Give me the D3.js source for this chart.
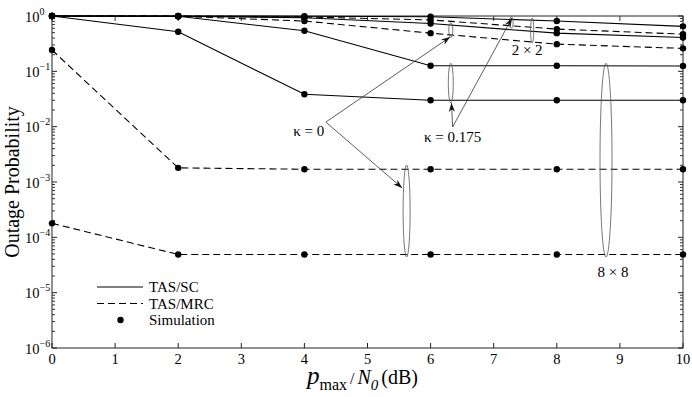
<!DOCTYPE html>
<html>
<head>
<meta charset="utf-8">
<script src="https://cdn.jsdelivr.net/npm/d3@7/dist/d3.min.js"></script>
<style>
  body { margin: 0; background: #fff; }
  svg { display: block; }
  svg text { font-family: 'Liberation Serif', 'Times New Roman', Times, serif; }
</style>
</head>
<body>
<div id="chart"></div>
<script>
// x values (dB)
const snrDb = [0, 2, 4, 6, 8, 10];
const xTicks = [0, 1, 2, 3, 4, 5, 6, 7, 8, 9, 10];
const yExponents = [0, -1, -2, -3, -4, -5, -6];

// 2 x 2 curves
const sc2x2K0175 = [1, 1, 0.99, 0.97, 0.81, 0.65];
const mrc2x2K0175 = [1, 1, 0.96, 0.85, 0.58, 0.47];
const sc2x2K0 = [1, 0.99, 0.93, 0.73, 0.49, 0.41];
const mrc2x2K0 = [1, 0.99, 0.81, 0.49, 0.31, 0.26];
// 8 x 8 curves
const sc8x8Upper = [1, 0.99, 0.54, 0.126, 0.126, 0.125];
const sc8x8Lower = [1, 0.52, 0.0385, 0.030, 0.030, 0.030];
const mrc8x8Upper = [0.243, 1.8e-3, 1.7e-3, 1.7e-3, 1.7e-3, 1.7e-3];
const mrc8x8Lower = [1.79e-4, 4.9e-5, 4.9e-5, 4.9e-5, 4.9e-5, 4.9e-5];

const series = [
  { values: sc2x2K0175, dashed: false },
  { values: mrc2x2K0175, dashed: true },
  { values: sc2x2K0, dashed: false },
  { values: mrc2x2K0, dashed: true },
  { values: sc8x8Upper, dashed: false },
  { values: sc8x8Lower, dashed: false },
  { values: mrc8x8Upper, dashed: true },
  { values: mrc8x8Lower, dashed: true }
];

const width = 692, height = 397;
const margin = { top: 16, right: 9, bottom: 49, left: 52 };
const serif = "'Liberation Serif', 'Times New Roman', Times, serif";

const svg = d3.select('#chart').append('svg')
  .attr('width', width)
  .attr('height', height)
  .attr('font-family', serif);

const x = d3.scaleLinear().domain([0, 10]).range([margin.left, width - margin.right]);
const y = d3.scaleLog().domain([1e-6, 1]).range([height - margin.bottom, margin.top]);

svg.append('defs').append('marker')
  .attr('id', 'arrow')
  .attr('viewBox', '0 0 10 10')
  .attr('refX', 10).attr('refY', 5)
  .attr('markerWidth', 9).attr('markerHeight', 9)
  .attr('markerUnits', 'userSpaceOnUse')
  .attr('orient', 'auto')
  .append('path')
  .attr('d', 'M0,1.5 L10,5 L0,8.5 L3,5 Z')
  .attr('fill', '#111');

// frame
svg.append('rect')
  .attr('x', x(0)).attr('y', y(1))
  .attr('width', x(10) - x(0)).attr('height', y(1e-6) - y(1))
  .attr('fill', 'none').attr('stroke', '#222').attr('stroke-width', 1);

// x ticks (bottom + top, inward)
xTicks.forEach(t => {
  svg.append('line').attr('x1', x(t)).attr('x2', x(t))
    .attr('y1', y(1e-6)).attr('y2', y(1e-6) - 5).attr('stroke', '#222');
  svg.append('line').attr('x1', x(t)).attr('x2', x(t))
    .attr('y1', y(1)).attr('y2', y(1) + 5).attr('stroke', '#333');
  svg.append('text').attr('x', x(t)).attr('y', y(1e-6) + 16)
    .attr('text-anchor', 'middle').attr('font-size', 14.5).text(t);
});

// y ticks, major + minor (left + right, inward)
yExponents.forEach(e => {
  const v = Math.pow(10, e);
  svg.append('line').attr('x1', x(0)).attr('x2', x(0) + 5)
    .attr('y1', y(v)).attr('y2', y(v)).attr('stroke', '#222');
  svg.append('line').attr('x1', x(10)).attr('x2', x(10) - 5)
    .attr('y1', y(v)).attr('y2', y(v)).attr('stroke', '#222');
  const lbl = svg.append('text').attr('y', y(v) + 5.5).attr('font-size', 14.5);
  lbl.append('tspan').attr('x', 25).text('10');
  lbl.append('tspan').attr('dy', -7).attr('font-size', 10)
    .text(e === 0 ? '0' : '\u2212' + (-e));
  if (e > -6) {
    for (let m = 2; m <= 9; m++) {
      const mv = v / 10 * m;
      svg.append('line').attr('x1', x(0)).attr('x2', x(0) + 3)
        .attr('y1', y(mv)).attr('y2', y(mv)).attr('stroke', '#333');
      svg.append('line').attr('x1', x(10)).attr('x2', x(10) - 3)
        .attr('y1', y(mv)).attr('y2', y(mv)).attr('stroke', '#333');
    }
  }
});

// curves
const line = d3.line().x((d, i) => x(snrDb[i])).y(d => y(d));
series.forEach(s => {
  svg.append('path')
    .attr('d', line(s.values))
    .attr('fill', 'none')
    .attr('stroke', '#000')
    .attr('stroke-width', 1.1)
    .attr('stroke-dasharray', s.dashed ? '7,4' : null);
});
series.forEach(s => {
  svg.selectAll(null).data(s.values).enter().append('circle')
    .attr('cx', (d, i) => x(snrDb[i]))
    .attr('cy', d => y(d))
    .attr('r', 3.2)
    .attr('fill', '#000');
});

// annotations: ellipses (x in dB, top/bottom in probability, rx in px)
const ellipses = [
  { x: 6.32, top: 0.76, bottom: 0.41, rx: 2 },
  { x: 7.28, top: 0.97, bottom: 0.60, rx: 1.8 },
  { x: 7.61, top: 0.92, bottom: 0.325, rx: 1.6 },
  { x: 6.32, top: 0.14, bottom: 0.0268, rx: 2.5 },
  { x: 5.62, top: 2.03e-3, bottom: 4.4e-5, rx: 3.5 },
  { x: 8.78, top: 0.14, bottom: 4.4e-5, rx: 6 }
];
ellipses.forEach(e => {
  svg.append('ellipse')
    .attr('cx', x(e.x))
    .attr('cy', (y(e.top) + y(e.bottom)) / 2)
    .attr('rx', e.rx)
    .attr('ry', (y(e.bottom) - y(e.top)) / 2)
    .attr('fill', 'none').attr('stroke', '#555').attr('stroke-width', 0.8);
});

const arrows = [
  { from: [4.34, 0.0121], to: [6.31, 0.417] },
  { from: [4.34, 0.0121], to: [5.55, 7.8e-4] },
  { from: [6.35, 9.9e-3], to: [6.33, 0.0268] },
  { from: [6.35, 9.9e-3], to: [7.29, 0.92] }
];
arrows.forEach(a => {
  svg.append('line')
    .attr('x1', x(a.from[0])).attr('y1', y(a.from[1]))
    .attr('x2', x(a.to[0])).attr('y2', y(a.to[1]))
    .attr('stroke', '#333').attr('stroke-width', 0.8)
    .attr('marker-end', 'url(#arrow)');
});

const notes = [
  { text: '\u03ba = 0', x: 4.07, y: 6.8e-3 },
  { text: '\u03ba = 0.175', x: 6.35, y: 5.3e-3 },
  { text: '2 \u00d7 2', x: 7.53, y: 0.197 },
  { text: '8 \u00d7 8', x: 8.89, y: 1.92e-5 }
];
notes.forEach(n => {
  svg.append('text')
    .attr('x', x(n.x)).attr('y', y(n.y))
    .attr('text-anchor', 'middle').attr('font-size', 15)
    .text(n.text);
});

// legend
const lg = svg.append('g');
lg.append('line').attr('x1', 97).attr('x2', 143).attr('y1', 287).attr('y2', 287)
  .attr('stroke', '#000').attr('stroke-width', 1.1);
lg.append('line').attr('x1', 97).attr('x2', 143).attr('y1', 303.5).attr('y2', 303.5)
  .attr('stroke', '#000').attr('stroke-width', 1.1).attr('stroke-dasharray', '7,4');
lg.append('circle').attr('cx', 120.5).attr('cy', 320).attr('r', 3.2).attr('fill', '#000');
['TAS/SC', 'TAS/MRC', 'Simulation'].forEach((t, i) => {
  lg.append('text').attr('x', 149).attr('y', 292 + i * 16.5)
    .attr('font-size', 15).text(t);
});

// axis titles
svg.append('text')
  .attr('transform', 'translate(19,' + y(1e-3) + ') rotate(-90)')
  .attr('text-anchor', 'middle').attr('font-size', 20)
  .text('Outage Probability');

const xl = svg.append('text').attr('x', 307).attr('y', 384).attr('font-size', 20);
xl.append('tspan').attr('font-style', 'italic').attr('font-size', 25).text('p');
xl.append('tspan').attr('dy', 6).attr('font-size', 16).text('max');
xl.append('tspan').attr('dy', -6).attr('dx', 3).attr('font-size', 16).text('/');
xl.append('tspan').attr('dx', 3).attr('font-style', 'italic').text('N');
xl.append('tspan').attr('dy', 6).attr('font-style', 'italic').attr('font-size', 15).text('0');
xl.append('tspan').attr('dy', -6).attr('dx', 3).text('(dB)');
</script>
</body>
</html>
